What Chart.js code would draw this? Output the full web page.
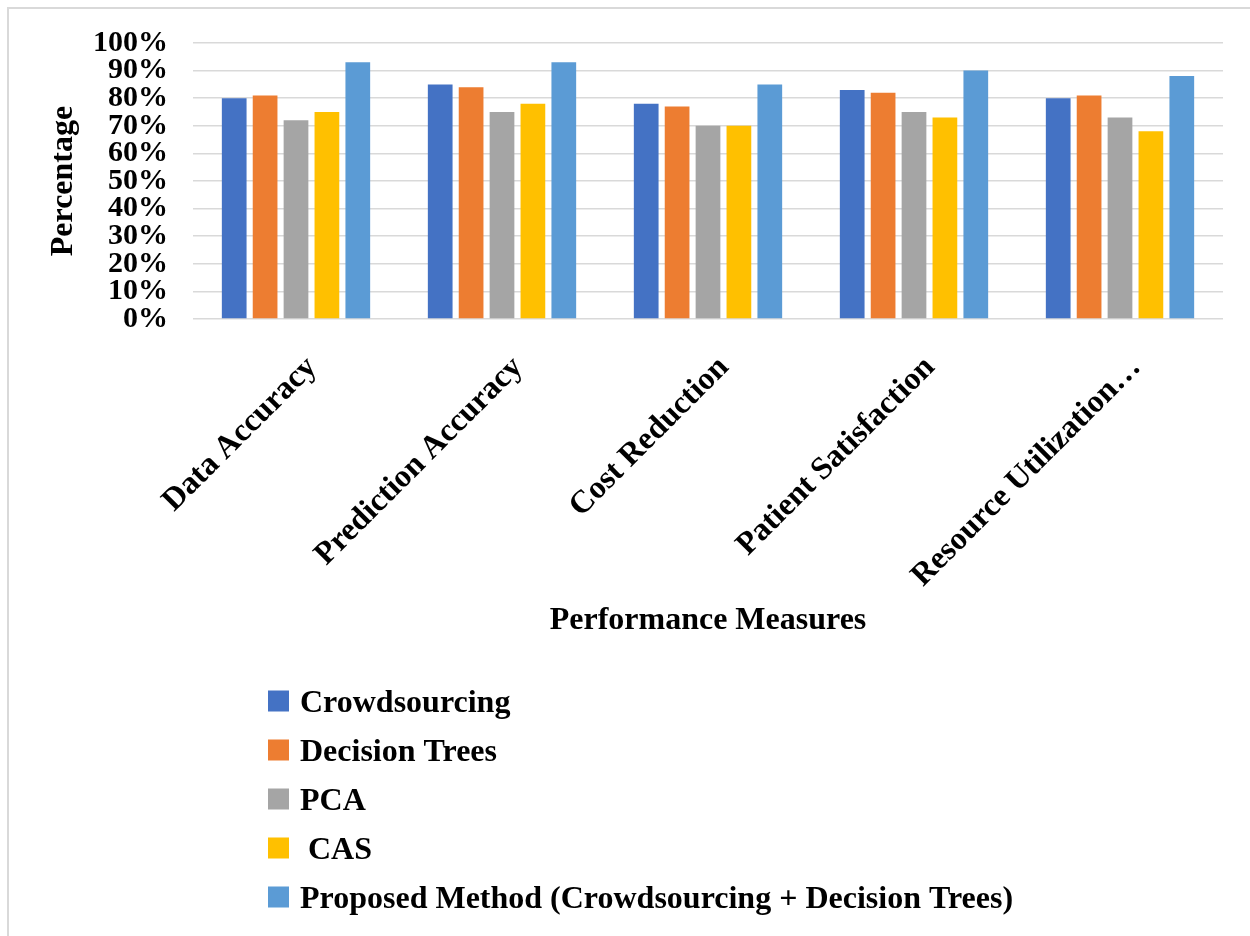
<!DOCTYPE html>
<html>
<head>
<meta charset="utf-8">
<title>Performance Measures</title>
<script src="https://cdn.jsdelivr.net/npm/chart.js@4"></script>
<style>
  html, body { margin: 0; padding: 0; background: #ffffff; }
  #wrap { position: relative; width: 1250px; height: 936px; }
  canvas { display: block; }
</style>
</head>
<body>
<div id="wrap"><canvas id="chart" width="1250" height="936"></canvas></div>
<script>
// Performance measures (x-axis categories)
const categories = ['Data Accuracy', 'Prediction Accuracy', 'Cost Reduction', 'Patient Satisfaction', 'Resource Utilization\u2026'];

// Percentage scores per method
const crowdsourcing = [80, 85, 78, 83, 80];
const decisionTrees = [81, 84, 77, 82, 81];
const pca           = [72, 75, 70, 75, 73];
const cas           = [75, 78, 70, 73, 68];
const proposed      = [93, 93, 85, 90, 88];

// Method names shown in the legend
const seriesNames = ['Crowdsourcing', 'Decision Trees', 'PCA', ' CAS', 'Proposed Method (Crowdsourcing + Decision Trees)'];
const seriesColors = ['#4472C4', '#ED7D31', '#A5A5A5', '#FFC000', '#5B9BD5'];

// Y-axis tick values (percent)
const yTicks = [0, 10, 20, 30, 40, 50, 60, 70, 80, 90, 100];

const FONT = "'Liberation Serif', 'Times New Roman', serif";
const seriesValues = [crowdsourcing, decisionTrees, pca, cas, proposed];

// Light frame around the figure
const framePlugin = {
  id: 'frame',
  beforeDraw(chart) {
    const ctx = chart.ctx;
    ctx.save();
    ctx.fillStyle = '#ffffff';
    ctx.fillRect(0, 0, chart.width, chart.height);
    ctx.strokeStyle = '#d9d9d9';
    ctx.lineWidth = 2;
    ctx.beginPath();
    ctx.moveTo(8, chart.height);
    ctx.lineTo(8, 8);
    ctx.lineTo(chart.width, 8);
    ctx.stroke();
    ctx.restore();
  }
};

// Vertical legend list under the axis title
const listLegendPlugin = {
  id: 'listLegend',
  afterDraw(chart) {
    const ctx = chart.ctx;
    const x0 = 268, y0 = 701, rowGap = 49, box = 21;
    ctx.save();
    ctx.font = "bold 32px " + FONT;
    ctx.textBaseline = 'middle';
    ctx.textAlign = 'left';
    chart.data.datasets.forEach((ds, i) => {
      const cy = y0 + i * rowGap;
      ctx.fillStyle = ds.backgroundColor;
      ctx.fillRect(x0, cy - box / 2, box, box);
      ctx.fillStyle = '#000000';
      ctx.fillText(ds.label, x0 + 32, cy + 3);
    });
    ctx.restore();
  }
};

const datasets = seriesNames.map((name, i) => ({
  label: name,
  data: seriesValues[i],
  backgroundColor: seriesColors[i],
  borderWidth: 0,
  categoryPercentage: 0.75,
  barPercentage: 0.8
}));

new Chart(document.getElementById('chart'), {
  type: 'bar',
  data: { labels: categories, datasets },
  options: {
    responsive: false,
    animation: false,
    layout: { padding: { top: 41, right: 27, bottom: 296, left: 45 } },
    plugins: {
      legend: { display: false },
      tooltip: { enabled: false }
    },
    scales: {
      x: {
        grid: { display: false },
        border: { display: false },
        ticks: {
          color: '#000000',
          font: { family: FONT, size: 32, weight: 'bold' },
          minRotation: 45,
          maxRotation: 45,
          padding: 22,
          labelOffset: 16,
          autoSkip: false
        },
        title: {
          display: true,
          text: 'Performance Measures',
          color: '#000000',
          font: { family: FONT, size: 32, weight: 'bold' },
          padding: { top: 0, bottom: 0 }
        },
        afterFit(scale) { scale.height = 321; }
      },
      y: {
        min: 0,
        max: 100,
        afterBuildTicks(scale) { scale.ticks = yTicks.map(v => ({ value: v })); },
        grid: { color: '#d9d9d9', lineWidth: 1.5, drawTicks: false },
        border: { display: false },
        ticks: {
          color: '#000000',
          font: { family: FONT, size: 30, weight: 'bold' },
          padding: 25,
          autoSkip: false,
          callback: v => v + '%'
        },
        title: {
          display: true,
          text: 'Percentage',
          color: '#000000',
          font: { family: FONT, size: 32, weight: 'bold' },
          padding: { top: 0, bottom: 0 }
        },
        afterFit(scale) { scale.width = 148; }
      }
    }
  },
  plugins: [framePlugin, listLegendPlugin]
});
</script>
</body>
</html>
